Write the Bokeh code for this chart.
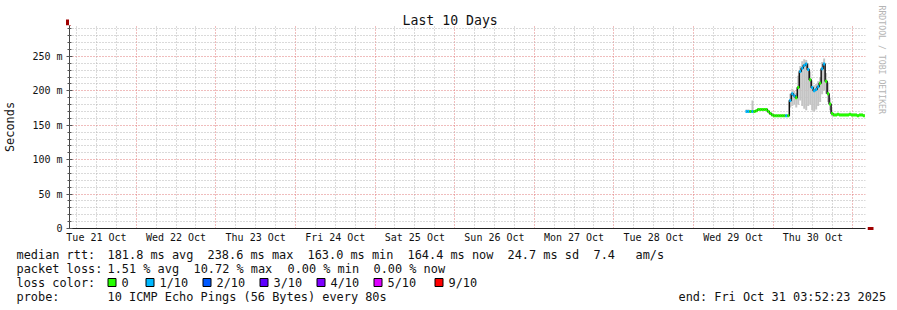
import math
import pandas as pd
from bokeh.plotting import figure
from bokeh.models import Range1d, FixedTicker, ColumnDataSource, Arrow, NormalHead, Title
from bokeh.embed import file_html
from bokeh.resources import INLINE
from bokeh.core.properties import value

# ---------------- data ----------------
title_text = "Last 10 Days"
range_start = "2025-10-21 03:52:23"
range_end = "2025-10-31 03:52:23"

# RRD samples: one every 36 minutes starting here
sample_start = "2025-10-29 16:00"
sample_step_min = 36

median_ms = [170, 170, 170, 170, 170, 171, 173, 173, 173, 173,
             173, 170, 167, 165, 164, 164, 164, 164, 164, 164,
             164, 164, 186, 196, 193, 190, 205, 228, 233, 237,
             239, 231, 216, 205, 200, 202, 206, 211, 232, 239,
             214, 196, 181, 167, 165, 165, 166, 165, 165, 165,
             165, 165, 166, 165, 165, 165, 164, 165, 165, 164]
low_ms = [169, 169, 169, 169, 169, 170, 172, 172, 172, 172,
          172, 169, 166, 164, 163, 163, 163, 163, 163, 163,
          163, 163, 176, 178, 180, 176, 180, 186, 178, 174,
          172, 178, 180, 172, 170, 173, 178, 184, 195, 200,
          196, 184, 172, 163, 164, 164, 165, 164, 164, 164,
          164, 164, 165, 164, 164, 164, 163, 164, 164, 163]
high_ms = [173, 173, 172, 186, 172, 173, 175, 175, 175, 175,
           175, 172, 169, 167, 166, 166, 166, 166, 166, 166,
           166, 166, 196, 203, 200, 197, 222, 236, 243, 246,
           245, 240, 228, 214, 208, 210, 214, 220, 242, 247,
           226, 212, 190, 173, 167, 167, 168, 167, 167, 167,
           167, 167, 168, 167, 167, 167, 166, 167, 167, 166]
lost_pings = [1, 1, 0, 1, 0, 0, 0, 0, 0, 0,
              0, 0, 0, 0, 0, 0, 0, 0, 0, 0,
              1, 0, 1, 1, 1, 0, 0, 1, 1, 1,
              1, 1, 0, 1, 1, 1, 1, 0, 1, 1,
              0, 0, 0, 0, 0, 0, 0, 0, 0, 0,
              0, 0, 0, 0, 0, 0, 0, 0, 0, 0]

loss_labels = ["0", "1/10", "2/10", "3/10", "4/10", "5/10", "9/10"]
loss_colors = ["#26ff00", "#00b8ff", "#0059ff", "#5e00ff", "#7e00ff", "#dd00ff", "#ff0000"]

x_tick_dates = ["2025-10-21 12:00", "2025-10-22 12:00", "2025-10-23 12:00", "2025-10-24 12:00",
                "2025-10-25 12:00", "2025-10-26 12:00", "2025-10-27 12:00", "2025-10-28 12:00",
                "2025-10-29 12:00", "2025-10-30 12:00"]
x_tick_labels = ["Tue 21 Oct", "Wed 22 Oct", "Thu 23 Oct", "Fri 24 Oct", "Sat 25 Oct",
                 "Sun 26 Oct", "Mon 27 Oct", "Tue 28 Oct", "Wed 29 Oct", "Thu 30 Oct"]
y_tick_values = [0, 50, 100, 150, 200, 250]
y_tick_labels = ["0", "50 m", "100 m", "150 m", "200 m", "250 m"]

rtt_parts = ["median rtt:", "181.8 ms avg", "238.6 ms max", "163.0 ms min",
             "164.4 ms now", "24.7 ms sd", "7.4", "am/s"]
loss_parts = ["packet loss:", "1.51 % avg", "10.72 % max", "0.00 % min", "0.00 % now"]
loss_title = "loss color:"
probe_parts = ["probe:", "10 ICMP Echo Pings (56 Bytes) every 80s"]
end_text = "end: Fri Oct 31 03:52:23 2025"
watermark = "RRDTOOL / TOBI OETIKER"

# ---------------- helpers ----------------
def ms(ts):
    return pd.Timestamp(ts).value / 1e6

MONO = "DejaVu Sans Mono"
TXT = "#111111"
W, H_MAIN, H_LEG = 897, 246, 64
t0, t1 = ms(range_start), ms(range_end)
step = sample_step_min * 60 * 1000.0
times = [ms(sample_start) + i * step for i in range(len(median_ms))]
src = ColumnDataSource(dict(
    t=times,
    left=[t - step / 2 for t in times],
    right=[t + step / 2 for t in times],
    med=median_ms, lo=low_ms, hi=high_ms,
    color=[loss_colors[n] if n < 6 else loss_colors[6] for n in lost_pings],
))

# ---------------- main chart ----------------
p = figure(width=W, height=H_MAIN, x_axis_type="datetime",
           x_range=Range1d(t0, t1), y_range=Range1d(0, 295),
           output_backend="svg", toolbar_location=None,
           min_border_left=67, min_border_right=30, min_border_top=25, min_border_bottom=18)
p.outline_line_color = None
p.background_fill_color = "white"
p.border_fill_color = "white"

p.title.text = title_text
p.title.align = "left"
p.title.offset = 333
p.title.standoff = -4
p.title.vertical_align = "bottom"
p.title.text_font = MONO
p.title.text_font_size = "13.2px"
p.title.text_font_style = "normal"
p.title.text_color = TXT

p.add_layout(Title(text=watermark, align="left", offset=-20, standoff=20,
                   vertical_align="middle", text_font=MONO, text_font_size="8.2px",
                   text_font_style="normal", text_color="#b4b4b4"), "right")

# grids
day_ms = 24 * 3600 * 1000.0
midnights = [ms("2025-10-22") + i * day_ms for i in range(10)]
six_hours = [ms("2025-10-21 06:00") + i * day_ms / 4 for i in range(40)]
six_hours = [s for s in six_hours if s not in midnights]
p.xgrid.ticker = FixedTicker(ticks=midnights, minor_ticks=six_hours)
minor_y = [v for v in range(10, 300, 10) if v % 50 != 0]
p.yaxis.ticker = FixedTicker(ticks=y_tick_values, minor_ticks=list(range(0, 300, 10)))
p.ygrid.ticker = FixedTicker(ticks=y_tick_values[1:], minor_ticks=minor_y)
for g in (p.xgrid, p.ygrid):
    g.grid_line_color = "#e07a7a"
    g.grid_line_dash = "1 2"
    g.grid_line_width = 1
    g.minor_grid_line_color = "#b4b4b4"
    g.minor_grid_line_dash = "1 2"
    g.minor_grid_line_width = 1

# x axis
p.xaxis.ticker = FixedTicker(ticks=[ms(d) for d in x_tick_dates])
p.xaxis.major_label_overrides = {ms(d): lab for d, lab in zip(x_tick_dates, x_tick_labels)}
p.xaxis.major_tick_line_color = None
p.xaxis.minor_tick_line_color = None
p.xaxis.major_tick_out = 0
p.xaxis.major_tick_in = 0
p.xaxis.minor_tick_out = 0
p.xaxis.minor_tick_in = 0
p.xaxis.major_label_standoff = 3
p.xaxis.major_label_text_font = MONO
p.xaxis.major_label_text_font_size = "10px"
p.xaxis.major_label_text_color = TXT
p.xaxis.axis_line_color = "#222222"

# y axis
p.yaxis.major_label_overrides = dict(zip(y_tick_values, y_tick_labels))
p.yaxis.major_tick_in = 3
p.yaxis.major_tick_out = 3
p.yaxis.minor_tick_in = 2
p.yaxis.minor_tick_out = 2
p.yaxis.major_tick_line_color = "#555555"
p.yaxis.minor_tick_line_color = "#555555"
p.yaxis.major_label_standoff = 4
p.yaxis.major_label_text_font = MONO
p.yaxis.major_label_text_font_size = "10px"
p.yaxis.major_label_text_color = TXT
p.yaxis.axis_line_color = "#444444"
p.yaxis.axis_label = "Seconds"
p.yaxis.axis_label_text_font = MONO
p.yaxis.axis_label_text_font_size = "11.9px"
p.yaxis.axis_label_text_font_style = "normal"
p.yaxis.axis_label_text_color = TXT
p.yaxis.axis_label_standoff = 12

# smoke, median line, loss coloured median
p.quad(left="left", right="right", bottom="lo", top="hi", source=src,
       fill_color="#c4c4c4", line_color=None)
p.step(x="t", y="med", source=src, mode="center", line_color="#111111", line_width=1.5)
p.segment(x0="left", x1="right", y0="med", y1="med", source=src,
          line_color="color", line_width=3)

# axis arrows (canvas units, y measured from the top)
ARROW = "#a00000"
p.add_layout(Arrow(end=NormalHead(size=6, fill_color=ARROW, line_color=ARROW),
                   x_start=867, y_start=228, x_end=873, y_end=228,
                   start_units="canvas", end_units="canvas", line_color=ARROW, line_width=3))
p.add_layout(Arrow(end=NormalHead(size=6, fill_color=ARROW, line_color=ARROW),
                   x_start=67, y_start=25, x_end=67, y_end=19,
                   start_units="canvas", end_units="canvas", line_color=ARROW, line_width=3))

# ---------------- legend strip (its own root, frame = whole strip) ----------------
q = figure(width=W, height=H_LEG, x_range=Range1d(0, W), y_range=Range1d(H_LEG, 0),
           output_backend="svg", toolbar_location=None, title=None,
           x_axis_location=None, y_axis_location=None, min_border=0)
q.outline_line_color = None
q.grid.visible = False
q.background_fill_color = "white"
q.border_fill_color = "white"

row_y = [254 - H_MAIN, 268 - H_MAIN, 282 - H_MAIN, 296 - H_MAIN]
txt_x, txt_y, txt = [], [], []
for x, t in zip([16, 107, 207, 307, 407, 507, 593, 635], rtt_parts):
    txt_x.append(x); txt_y.append(row_y[0]); txt.append(t)
for x, t in zip([16, 107, 193, 287, 373], loss_parts):
    txt_x.append(x); txt_y.append(row_y[1]); txt.append(t)
txt_x.append(16); txt_y.append(row_y[2]); txt.append(loss_title)
sq_x = [111.5, 149.5, 206.5, 263.5, 320.5, 377.5, 438.5]
for x, t in zip(sq_x, loss_labels):
    txt_x.append(x + 9.5); txt_y.append(row_y[2]); txt.append(t)
for x, t in zip([16, 107, 678], probe_parts + [end_text]):
    txt_x.append(x); txt_y.append(row_y[3]); txt.append(t)

q.text(x=txt_x, y=txt_y, text=txt, text_font=value(MONO), text_font_size=value("11.9px"),
       text_baseline="middle", text_align="left", text_color=TXT)
q.rect(x=sq_x, y=[row_y[2]] * len(sq_x), width=8, height=8, fill_color=loss_colors,
       line_color="black", line_width=1)

open("out.html", "w").write(file_html([p, q], INLINE))
